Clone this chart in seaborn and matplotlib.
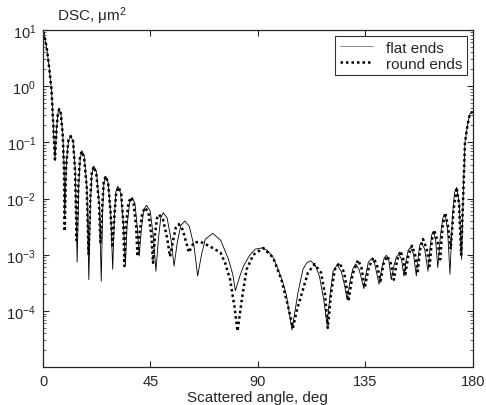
import numpy as np
import pandas as pd
import matplotlib
matplotlib.use("Agg")
import matplotlib.pyplot as plt
import seaborn as sns
from matplotlib.ticker import LogLocator, NullFormatter

# angle (deg) / DSC (um^2)
flat_angle = [0.0, 0.4, 1.5, 2.6, 3.6, 4.3, 5.0, 5.7, 6.3, 6.8, 7.5, 8.3, 8.8, 9.1,
              9.8, 10.7, 11.6, 12.6, 13.5, 14.3, 15.0, 15.6, 16.3, 17.3, 18.4, 19.2,
              19.9, 20.5, 21.3, 22.4, 23.6, 24.4, 25.0, 25.5, 26.2, 27.3, 28.4, 29.2,
              29.9, 30.5, 31.3, 32.5, 33.7, 34.5, 35.2, 36.3, 37.3, 38.5, 39.6, 40.3,
              41.2, 42.2, 43.4, 44.9, 46.3, 47.3, 48.3, 49.3, 50.4, 52.0, 53.7, 54.9,
              56.2, 57.7, 59.4, 61.3, 63.3, 64.8, 66.4, 68.0, 71.1, 74.5, 77.7, 79.5,
              80.6, 82.5, 84.0, 86.7, 89.0, 91.4, 94.0, 96.5, 98.5, 100.5, 102.0, 104.3,
              106.8, 108.9, 110.5, 112.1, 114.0, 115.8, 117.6, 119.0, 120.3, 121.5, 123.2,
              125.0, 126.4, 127.4, 128.7, 129.8, 131.0, 132.4, 133.6, 134.4, 135.3, 136.3,
              137.6, 138.9, 139.9, 140.8, 141.9, 142.9, 143.9, 144.9, 145.9, 147.0, 148.0,
              149.1, 150.2, 151.2, 152.1, 153.0, 153.9, 155.2, 156.4, 157.3, 157.9, 158.5,
              159.9, 161.3, 162.2, 162.9, 163.6, 164.5, 165.4, 166.5, 167.5, 168.5, 169.5,
              170.5, 171.5, 172.4, 173.3, 174.4, 175.4, 176.0, 176.8, 177.8, 178.8, 180.0]
flat_dsc = [9.1, 8.3, 5.0, 2.1, 0.81, 0.21, 0.047, 0.18, 0.34, 0.39, 0.32, 0.14, 0.04, 0.005,
            0.045, 0.107, 0.129, 0.105, 0.035, 7.4e-4, 0.018, 0.052, 0.071, 0.056, 0.016, 3.6e-4,
            8.9e-3, 0.028, 0.038, 0.030, 7.9e-3, 3.4e-4, 6.3e-3, 0.019, 0.025, 0.019, 5.0e-3, 5.5e-4,
            4.5e-3, 0.013, 0.0166, 0.0126, 3.5e-3, 6.3e-4, 3.2e-3, 8.5e-3, 0.0105, 8.3e-3, 2.8e-3, 9.5e-4,
            2.8e-3, 6.3e-3, 7.6e-3, 6.0e-3, 2.0e-3, 5.1e-4, 1.8e-3, 4.5e-3, 5.6e-3, 4.5e-3, 1.8e-3, 6.3e-4,
            1.6e-3, 3.3e-3, 4.0e-3, 3.2e-3, 1.4e-3, 4.2e-4, 1.0e-3, 1.9e-3, 2.4e-3, 1.8e-3, 8.3e-4, 4.5e-4,
            2.3e-4, 4.2e-4, 6.3e-4, 1.0e-3, 1.26e-3, 1.32e-3, 1.2e-3, 8.9e-4, 5.5e-4, 3.2e-4, 1.9e-4, 4.6e-5,
            2.1e-4, 5.5e-4, 7.2e-4, 7.8e-4, 6.6e-4, 4.2e-4, 1.6e-4, 5.8e-5, 2.0e-4, 5.0e-4, 6.6e-4,
            5.0e-4, 2.8e-4, 1.6e-4, 3.5e-4, 5.6e-4, 6.9e-4, 5.5e-4, 3.5e-4, 2.5e-4, 4.5e-4, 7.4e-4,
            8.5e-4, 7.1e-4, 4.5e-4, 3.0e-4, 5.6e-4, 8.7e-4, 9.8e-4, 7.9e-4, 3.6e-4, 6.3e-4, 9.1e-4,
            1.02e-3, 8.3e-4, 4.2e-4, 7.9e-4, 1.2e-3, 1.35e-3, 1.05e-3, 4.2e-4, 1.0e-3, 1.5e-3, 1.66e-3,
            1.26e-3, 5.1e-4, 1.4e-3, 2.3e-3, 2.6e-3, 1.8e-3, 5.9e-4, 2.2e-3, 4.5e-3, 5.2e-3, 2.8e-3,
            4.5e-4, 4.5e-3, 0.0126, 0.0158, 7.9e-3, 8.3e-4, 9.8e-3, 0.10, 0.195, 0.32, 0.35]

round_angle = [0.0, 0.4, 1.5, 2.6, 3.6, 4.3, 5.0, 5.7, 6.3, 6.8, 7.5, 8.3, 8.8, 9.1,
               9.6, 10.6, 11.6, 12.6, 13.4, 14.1, 14.8, 15.5, 16.2, 17.2, 18.3, 19.1,
               19.8, 20.4, 21.2, 22.3, 23.4, 24.1, 24.8, 25.4, 26.2, 27.3, 28.3, 29.1,
               29.9, 30.7, 31.7, 32.8, 33.6, 34.1, 34.8, 35.8, 36.9, 38.0, 39.0, 39.6,
               40.5, 41.6, 42.8, 44.2, 45.4, 46.1, 47.0, 47.8, 48.6, 50.3, 52.0, 53.2,
               54.5, 55.6, 56.9, 58.5, 60.0, 61.1, 63.2, 66.0, 69.4, 74.3, 76.3, 78.4,
               80.2, 81.5, 83.3, 85.3, 88.1, 92.3, 96.4, 99.9, 102.7, 104.7, 106.5, 108.2,
               111.0, 113.8, 116.5, 118.2, 119.3, 120.7, 122.3, 124.2, 126.2, 128.0, 129.7,
               132.0, 133.4, 134.8, 136.5, 138.4, 139.9, 141.4, 142.6, 144.2, 145.7, 147.0,
               148.3, 149.8, 150.9, 151.8, 153.1, 154.6, 155.9, 157.0, 158.0, 159.2, 160.7,
               162.0, 162.9, 163.9, 165.2, 166.4, 167.4, 168.5, 169.7, 170.8, 172.0, 173.3,
               174.3, 175.2, 176.0, 176.8, 177.8, 178.8, 180.0]
round_dsc = [9.1, 8.3, 5.0, 2.1, 0.81, 0.21, 0.05, 0.18, 0.34, 0.39, 0.32, 0.126, 0.032, 2.6e-3,
             0.032, 0.107, 0.129, 0.105, 0.032, 1.8e-3, 0.018, 0.054, 0.069, 0.055, 0.016, 1.0e-3,
             0.010, 0.028, 0.037, 0.028, 8.9e-3, 1.66e-3, 7.1e-3, 0.019, 0.025, 0.019, 5.6e-3, 1.35e-3,
             5.0e-3, 0.013, 0.016, 0.012, 4.0e-3, 6.3e-4, 3.5e-3, 8.5e-3, 0.0105, 7.9e-3, 3.2e-3, 9.3e-4,
             2.5e-3, 5.6e-3, 6.9e-3, 5.5e-3, 2.2e-3, 7.2e-4, 2.5e-3, 4.5e-3, 5.2e-3, 4.2e-3, 2.0e-3, 9.3e-4,
             1.8e-3, 3.0e-3, 3.5e-3, 2.8e-3, 1.66e-3, 1.1e-3, 1.66e-3, 1.7e-3, 1.45e-3, 1.1e-3, 7.2e-4, 3.6e-4,
             1.2e-4, 4.4e-5, 1.6e-4, 5.5e-4, 1.0e-3, 1.32e-3, 8.9e-4, 3.6e-4, 1.2e-4, 5.0e-5, 1.1e-4, 1.9e-4,
             4.8e-4, 6.8e-4, 4.8e-4, 1.9e-4, 5.0e-5, 2.1e-4, 5.5e-4, 7.2e-4, 4.8e-4, 1.5e-4, 4.5e-4,
             8.1e-4, 5.9e-4, 2.6e-4, 6.0e-4, 8.9e-4, 6.6e-4, 3.4e-4, 6.8e-4, 9.5e-4, 7.1e-4, 3.6e-4,
             7.9e-4, 1.17e-3, 8.5e-4, 4.5e-4, 1.0e-3, 1.45e-3, 1.0e-3, 5.1e-4, 1.26e-3, 1.9e-3, 1.3e-3,
             6.3e-4, 1.8e-3, 2.75e-3, 1.8e-3, 8.3e-4, 3.2e-3, 5.6e-3, 3.2e-3, 1.26e-3, 6.3e-3, 0.0158,
             7.9e-3, 1.0e-3, 0.010, 0.10, 0.195, 0.32, 0.35]

x_ticks = [0, 45, 90, 135, 180]

sns.set_style("ticks")
plt.rcParams['font.family'] = ['Liberation Sans', 'DejaVu Sans']
plt.rcParams['mathtext.fontset'] = 'custom'
plt.rcParams['mathtext.rm'] = 'Liberation Sans'
plt.rcParams['mathtext.it'] = 'Liberation Sans:italic'
plt.rcParams['axes.unicode_minus'] = False

fig = plt.figure(figsize=(4.86, 4.06), dpi=100)
ax = fig.add_axes([0.0885, 0.093, 0.884, 0.831])

flat_df = pd.DataFrame({'angle': flat_angle, 'dsc': flat_dsc})
round_df = pd.DataFrame({'angle': round_angle, 'dsc': round_dsc})

sns.lineplot(data=flat_df, x='angle', y='dsc', ax=ax, color='black', lw=0.6,
             sort=False, estimator=None, label='flat ends')
sns.lineplot(data=round_df, x='angle', y='dsc', ax=ax, color='black', lw=1.8,
             linestyle=(0, (1, 1.2)), sort=False, estimator=None, label='round ends')

ax.set_yscale('log')
ax.set_xlim(0, 180)
ax.set_ylim(1e-5, 1e1)
ax.set_xticks(x_ticks)
ax.set_yticks([1e-4, 1e-3, 1e-2, 1e-1, 1e0, 1e1])
ax.yaxis.set_minor_locator(LogLocator(base=10, subs=np.arange(2, 10), numticks=20))
ax.yaxis.set_minor_formatter(NullFormatter())
ax.tick_params(which='both', direction='in', top=True, right=True, labelsize=10.5, pad=5)
ax.tick_params(which='major', length=4, width=0.8)
ax.tick_params(which='minor', length=2, width=0.5)
for s in ax.spines.values():
    s.set_linewidth(0.9)

ax.set_xlabel('Scattered angle, deg', fontsize=11, labelpad=1)
ax.set_ylabel('')
ax.text(0.032, 1.012, r'DSC, $\mathregular{\mu m^2}$', transform=ax.transAxes,
        fontsize=11, ha='left', va='bottom')

leg = ax.legend(loc='upper right', fontsize=11, frameon=True, fancybox=False,
                borderaxespad=0.4, handlelength=2.2, borderpad=0.3, labelspacing=0.15)
leg.get_frame().set_edgecolor('black')
leg.get_frame().set_linewidth(0.8)
leg.get_lines()[0].set_color('#777777')

fig.savefig('out.png', dpi=100)
